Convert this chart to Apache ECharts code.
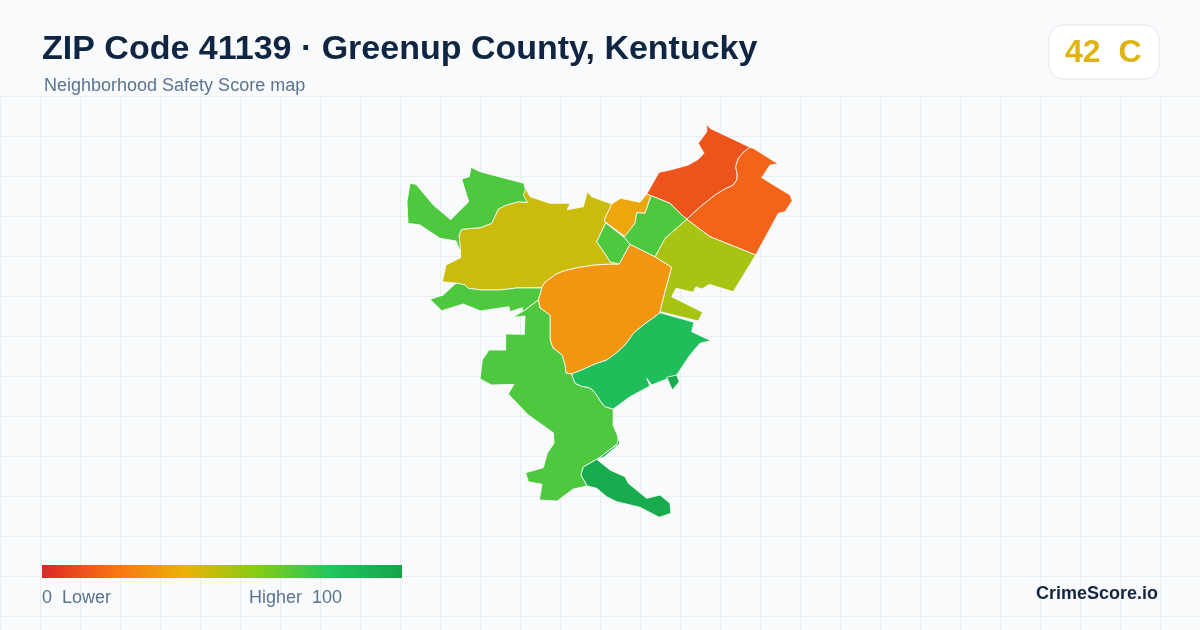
<!DOCTYPE html>
<html>
<head>
<meta charset="utf-8">
<title>ZIP Code 41139</title>
<style>
html,body{margin:0;padding:0;background:#f8fafc;}
#chart{width:1200px;height:630px;}
</style>
<script src="https://cdn.jsdelivr.net/npm/echarts@6/dist/echarts.min.js"></script>
</head>
<body>
<div id="chart"></div>
<script>
// boundaries
var northRidge = [[706.7,124.3],[710,128.3],[750,147.3],[743.3,152.3],[738.3,158.3],[735.7,166.7],[737.3,175],[736.7,180],[733.3,185],[725,189],[715,195],[700,207],[686.7,219.3],[678.3,211.7],[670,203.3],[651,195.7],[646.7,194],[659,172.3],[670,170],[688.3,165],[698.3,159.3],[704,153.3],[698.3,143.3],[706.7,131.7]];
var eastRidge = [[753.3,148.3],[778.3,164],[770,165],[761.7,177.7],[790,195],[792.3,200.7],[785,211.7],[778.3,213.3],[755.7,255],[710,236.7],[686.7,219.3],[700,207],[715,195],[725,189],[733.3,185],[736.7,180],[737.3,175],[735.7,166.7],[738.3,158.3],[743.3,152.3],[750,147.3]];
var central = [[541.7,287.7],[544,283.3],[550,278.3],[556.7,273.7],[563.3,271],[576.7,267.7],[593.3,265],[610,264],[619,264],[630,244.3],[655,256.7],[671.7,267.3],[665,291.7],[660,312.7],[652.7,318.3],[643.3,325],[633.3,333.3],[629.3,339.3],[625,345],[616.7,352.7],[606.7,360],[595,364],[583.3,369.3],[571.7,374],[566,373],[565,365],[562,355],[553,348],[551,343],[550,338],[550,315],[540,308],[538.3,300]];
var creek = [[604,220],[611.7,204],[620.7,198.3],[640,202.3],[646.7,194],[651,195.7],[645,213.3],[636.7,212.7],[635,223.3],[625,236.7],[605,221.7]];
var westTown = [[525,187],[530,196.7],[550,203.3],[570,203.3],[567.3,209.7],[583.3,206.7],[587.3,191.7],[591.7,196.7],[611.7,204],[604,220],[605.7,223],[596.7,241.7],[607,256.7],[610,261.7],[619,264],[610,264],[593.3,265],[576.7,267.7],[563.3,271],[556.7,273.7],[550,278.3],[544,283.3],[541.7,287.7],[517,288],[500,290],[482,290],[468,288.3],[465,285],[458,283.3],[442.3,281.7],[446,265],[460.7,257.7],[459,235],[461.7,229.3],[480,227.7],[491.7,223.3],[498.3,209],[506.7,205],[518.3,201.7],[527.3,202.3],[521.7,195]];
var eastHollow = [[686.7,219.3],[710,236.7],[755.7,255],[733.3,291.7],[709.3,284.3],[701.7,289],[696,286.7],[693.3,292.3],[676,288.3],[671.7,296.7],[702.7,312.3],[698.3,321],[660,311.7],[665,291.7],[671.7,267.3],[655,256.7],[665,238.3]];
var midNorth = [[651,195.7],[670,203.3],[678.3,211.7],[686.7,219.3],[665,238.3],[655,256.7],[630,244.3],[624,237.3],[635,223.3],[636.7,212.7],[645,213.3]];
var midWest = [[605.7,223],[624,237.3],[630,244.3],[619,264],[610,261.7],[607,256.7],[596.7,241.7]];
var northwest = [[471,167.3],[480,171.7],[524,183.3],[525.3,190],[523.3,195],[527.3,202.3],[518.3,201.7],[506.7,205],[498.3,209],[491.7,223.3],[480,227.7],[461.7,229.3],[459,235],[460.7,252],[456,241],[440,238.3],[420,225],[408,223.3],[407,201.7],[410,183.3],[416,184.3],[433.3,205],[450.7,219.7],[468.7,201.7],[461.7,179],[469.3,176.7]];
var southwestStrip = [[430,299.3],[443.3,295],[455,284],[458.3,283.3],[465,285],[468.3,288.3],[481.7,290],[500,290],[516.7,288],[541.7,288],[538.3,300],[525,310],[513,317.3],[522,311],[522.7,307.7],[510,311.7],[509,306.7],[480,311],[478.3,310],[463.3,304],[441.7,310.7]];
var southwestMain = [[538.3,300],[540,308],[550,315],[550,338],[551,343],[553,348],[562,355],[565,365],[566,373],[571.7,374],[575,383.3],[581.7,386.3],[588.3,387.3],[592.7,390],[596.7,395],[600.7,401.7],[605,406.7],[613.3,409],[613,425],[617.7,436],[618.3,443],[617,444],[603,455],[597,459],[583.3,467],[581,475],[587.3,486],[573.3,489],[557,501],[539.3,500],[542,484.3],[528.3,481.7],[525.7,472.7],[543.3,467.7],[547.3,453.3],[554,443.3],[553.3,432.7],[528.3,415],[508.3,394],[514,384.3],[491.7,385],[480,379],[482.3,360],[489,350],[505.7,350],[505.7,334],[524.3,334.3],[525,316],[513,317.3],[525,310]];
var southeast = [[660,312.7],[694,322.3],[691.7,331.7],[711,340.7],[700,343.3],[690,355],[676.7,375],[651.7,385],[646.7,378.3],[650,386],[630,396.7],[613.3,409],[605,406.7],[600.7,401.7],[596.7,395],[592.7,390],[588.3,387.3],[581.7,386.3],[575,383.3],[571.7,374],[583.3,369.3],[595,364],[606.7,360],[616.7,352.7],[625,345],[629.3,339.3],[633.3,333.3],[643.3,325],[652.7,318.3]];
var southIsland = [[666.7,377.3],[676.7,375],[679.3,381.7],[672.3,390]];
var southBody = [[596.7,459.3],[610,470],[625,476.7],[628.3,483.3],[646.7,498.3],[660,495],[670,503.3],[671,513.3],[659.3,517.3],[640,507.3],[616.7,501.7],[606.7,496.7],[596.7,488.3],[587.3,486],[581,475],[583.3,467]];
var southSliver = [[617,444.5],[619.5,437],[619.5,444],[604,457],[598,459.5],[603,455]];

// one entry per map area, same order in all three lists
var regionNames = ['North Ridge', 'East Ridge', 'Central', 'Creek', 'West', 'East Hollow', 'Mid North', 'Mid West', 'Northwest', 'Southwest Strip', 'Southwest', 'Southeast', 'South'];
var regionScores = [12, 16, 31, 36, 46, 53, 71, 71, 71, 71, 71, 84, 95];
var regionShapes = [[northRidge], [eastRidge], [central], [creek], [westTown], [eastHollow], [midNorth], [midWest], [northwest], [southwestStrip], [southwestMain], [southeast], [southIsland, southBody, southSliver]];

var scaleColors = ['#dc2626', '#f97316', '#eab308', '#84cc16', '#22c55e', '#16a34a'];

var features = [];
var seriesData = [];
for (var i = 0; i < regionNames.length; i++) {
  features.push({
    type: 'Feature',
    properties: { name: regionNames[i] },
    geometry: {
      type: 'MultiPolygon',
      coordinates: regionShapes[i].map(function (ring) { return [ring.concat([ring[0]])]; })
    }
  });
  seriesData.push({ name: regionNames[i], value: regionScores[i] });
}
echarts.registerMap('zip41139', { type: 'FeatureCollection', features: features });

var barStops = scaleColors.map(function (c, k) {
  return { offset: k / (scaleColors.length - 1), color: c };
});

var myChart = echarts.init(document.getElementById('chart'));
var gridLine = { show: true, lineStyle: { color: '#e8eff3', width: 1 } };
var option = {
  animation: false,
  backgroundColor: '#f8fafc',
  title: [
    {
      text: 'ZIP Code 41139 · Greenup County, Kentucky',
      left: 42, top: 33, padding: 0,
      textStyle: { fontFamily: 'Liberation Sans', fontSize: 34, fontWeight: 'bold', color: '#0f2542' }
    },
    {
      text: 'Neighborhood Safety Score map',
      left: 44, top: 77, padding: 0,
      textStyle: { fontFamily: 'Liberation Sans', fontSize: 18, fontWeight: 'normal', color: '#5b7390' }
    }
  ],
  grid: { left: 0.5, top: 96.5, width: 1200, height: 534, containLabel: false },
  xAxis: {
    type: 'value', min: 0, max: 1200, interval: 40,
    axisLine: { show: false }, axisTick: { show: false }, axisLabel: { show: false },
    splitLine: gridLine
  },
  yAxis: {
    type: 'value', min: 0, max: 534, interval: 40, inverse: true,
    axisLine: { show: false }, axisTick: { show: false }, axisLabel: { show: false },
    splitLine: gridLine
  },
  visualMap: {
    type: 'continuous', min: 0, max: 100, show: false,
    inRange: { color: scaleColors },
    seriesIndex: 0
  },
  series: [{
    type: 'map',
    map: 'zip41139',
    projection: {
      project: function (p) { return p; },
      unproject: function (p) { return p; }
    },
    left: 407, top: 124.3, width: 385.3, height: 393,
    roam: false,
    silent: true,
    label: { show: false },
    itemStyle: { borderColor: '#ffffff', borderWidth: 0.8 },
    data: seriesData
  }],
  graphic: [
    {
      type: 'rect', left: 42, top: 565, z: 5,
      shape: { width: 360, height: 13 },
      style: { fill: new echarts.graphic.LinearGradient(0, 0, 1, 0, barStops) }
    },
    {
      type: 'rect', left: 1048.5, top: 24.5, z: 5,
      shape: { width: 110, height: 54, r: 14 },
      style: { fill: '#ffffff', stroke: '#e2e8f0', lineWidth: 1 }
    },
    {
      type: 'text', left: 1065, top: 37, z: 6,
      style: { text: '42  C', fontFamily: 'Liberation Sans', fontSize: 32, fontWeight: 'bold', fill: '#e0b30f' }
    },
    {
      type: 'text', left: 42, top: 589, z: 6,
      style: { text: '0  Lower', fontFamily: 'Liberation Sans', fontSize: 18, fill: '#5b7390' }
    },
    {
      type: 'text', left: 249, top: 589, z: 6,
      style: { text: 'Higher  100', fontFamily: 'Liberation Sans', fontSize: 18, fill: '#5b7390' }
    },
    {
      type: 'text', right: 42, top: 585, z: 6,
      style: { text: 'CrimeScore.io', fontFamily: 'Liberation Sans', fontSize: 18, fontWeight: 'bold', fill: '#14263f' }
    }
  ]
};
myChart.setOption(option);
window.addEventListener('resize', function () {
  myChart.resize();
});
</script>
</body>
</html>
